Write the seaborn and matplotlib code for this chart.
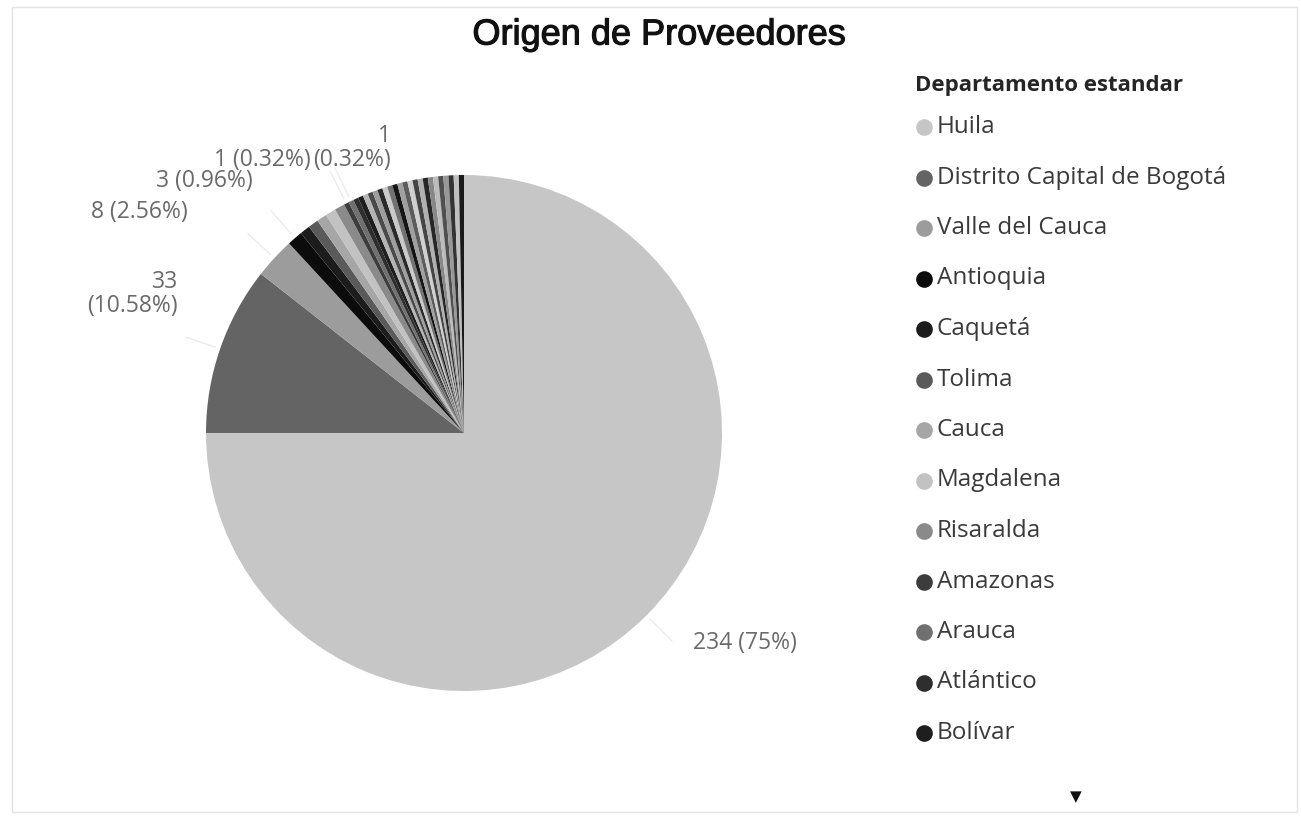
import matplotlib
matplotlib.use("Agg")
import matplotlib.pyplot as plt
import matplotlib.patheffects as pe
import seaborn as sns
import numpy as np
from matplotlib.lines import Line2D
from matplotlib.patches import Rectangle

# ---- data ----
departamentos = [
    "Huila", "Distrito Capital de Bogotá", "Valle del Cauca", "Antioquia", "Caquetá",
    "Tolima", "Cauca", "Magdalena", "Risaralda", "Amazonas", "Arauca", "Atlántico",
    "Bolívar", "Boyacá", "Caldas", "Casanare", "Cesar", "Chocó", "Córdoba",
    "Cundinamarca", "Guainía", "Guaviare", "La Guajira", "Meta", "Nariño",
    "Norte de Santander", "Putumayo", "Quindío", "San Andrés", "Santander",
    "Sucre", "Vaupés", "Vichada",
]
proveedores = [234, 33, 8, 3, 2, 2, 2, 2, 2, 1, 1, 1, 1, 1, 1, 1, 1, 1, 1,
               1, 1, 1, 1, 1, 1, 1, 1, 1, 1, 1, 1, 1, 1]
colores = [
    "#c6c6c6", "#646464", "#9c9c9c", "#0c0c0c", "#1c1c1c", "#5a5a5a", "#a6a6a6",
    "#c2c2c2", "#8a8a8a", "#3c3c3c", "#707070", "#2e2e2e", "#1e1e1e",
    "#b5b5b5", "#4a4a4a", "#9e9e9e", "#2a2a2a", "#cacaca", "#727272", "#151515",
    "#a0a0a0", "#5c5c5c", "#d0d0d0", "#444444", "#b0b0b0", "#262626", "#888888",
    "#bcbcbc", "#505050", "#989898", "#333333", "#c0c0c0", "#1a1a1a",
]
titulo = "Origen de Proveedores"
titulo_leyenda = "Departamento estandar"
n_leyenda = 13
# labelled slices; label anchor (layout, pie data units) and alignment
etiquetas_idx = [0, 1, 2, 3, 9, 10]
etiquetas_pos = [(0.888, -0.814), (-1.109, 0.537), (-1.070, 0.857),
                 (-0.818, 0.977), (-0.593, 1.058), (-0.283, 1.103)]
etiquetas_ha = ["left", "right", "right", "right", "right", "right"]
etiquetas_multilinea = [False, True, False, False, False, True]

# ---- style ----
sns.set_theme(style="white")
plt.rcParams["font.family"] = ["Open Sans", "DejaVu Sans"]

W, H = 1301, 817
fig = plt.figure(figsize=(W / 100, H / 100), dpi=100)
fig.patch.set_facecolor("white")

# pie axes: center (464,433) px, radius 258 px
cx, cy, r_px = 464, 433, 258
side = 700
ax = fig.add_axes([(cx - side / 2) / W, (H - cy - side / 2) / H, side / W, side / H])
wedges, _ = ax.pie(proveedores, colors=colores, startangle=90, counterclock=False,
                   radius=1.0, wedgeprops=dict(linewidth=0))
lim = side / 2 / r_px
ax.set_xlim(-lim, lim)
ax.set_ylim(-lim, lim)
ax.set_aspect("equal")
ax.axis("off")

total = sum(proveedores)
cum = np.cumsum([0] + proveedores)
for idx, (lx, ly), ha, multi in zip(etiquetas_idx, etiquetas_pos, etiquetas_ha,
                                    etiquetas_multilinea):
    v = proveedores[idx]
    pct = f"{100 * v / total:.2f}".rstrip("0").rstrip(".")
    sep = "\n" if multi else " "
    txt = f"{v}{sep}({pct}%)"
    mid = (cum[idx] + cum[idx + 1]) / 2
    ang = np.deg2rad(90 - 360 * mid / total)
    px, py = np.cos(ang) * 1.02, np.sin(ang) * 1.02
    ax.text(lx, ly, txt, ha=ha, va="center", fontsize=16.5, multialignment="right",
            color="#6a6a6a", linespacing=1.0)
    # faint leader line
    ex = px + 0.12 * np.cos(ang)
    ey = py + 0.12 * np.sin(ang)
    ax.plot([px, ex], [py, ey], color="#ececec", lw=1.0, solid_capstyle="round")

# title
fig.text(659 / W, 1 - 35 / H, titulo, ha="center", va="center", fontsize=26,
         family=["Liberation Sans", "DejaVu Sans"], color="#111111",
         path_effects=[pe.withStroke(linewidth=0.8, foreground="#111111")])

# legend (manual, matching Power BI layout)
fig.text(915 / W, 1 - 86 / H, titulo_leyenda, ha="left", va="center",
         fontsize=16, fontweight="bold", color="#252525")
y0, dy = 127, 50.5
for i in range(n_leyenda):
    yy = 1 - (y0 + i * dy) / H
    fig.add_artist(Line2D([924 / W], [yy], marker="o", markersize=12,
                          color=colores[i], markeredgewidth=0, linestyle="none",
                          transform=fig.transFigure))
    fig.text(937 / W, yy, departamentos[i], ha="left", va="center",
             fontsize=17.5, color="#3a3a3a")

# scroll arrow
fig.text(1076 / W, 1 - 797 / H, "▼", ha="center", va="center", fontsize=11,
         color="#111111", family=["DejaVu Sans"])

# faint visual border
fig.add_artist(Rectangle((12 / W, 5 / H), (W - 16) / W, (H - 12) / H,
                         transform=fig.transFigure, fill=False,
                         edgecolor="#e4e4e4", lw=1.0))

fig.savefig("out.png", dpi=100, facecolor="white")
